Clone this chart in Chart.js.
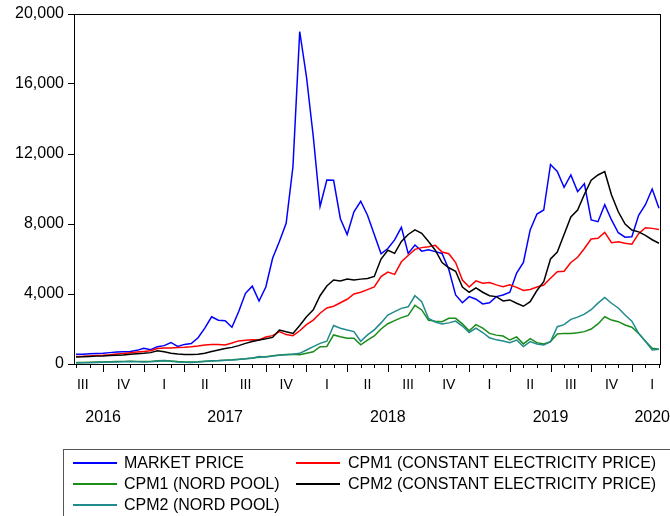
<!DOCTYPE html>
<html>
<head>
<meta charset="utf-8">
<script src="https://cdn.jsdelivr.net/npm/chart.js@4.4.1/dist/chart.umd.min.js"></script>
<style>
  html, body { margin: 0; padding: 0; background: #fff; }
  #wrap { width: 670px; height: 516px; }
</style>
</head>
<body>
<div id="wrap"><canvas id="chart" width="670" height="516"></canvas></div>
<script>
// half-monthly observations, Aug 2016 - Mar 2020
const dates = [
    '2016-08-01','2016-08-16','2016-09-01','2016-09-16','2016-10-01','2016-10-16','2016-11-01','2016-11-16','2016-12-01','2016-12-16',
    '2017-01-01','2017-01-16','2017-02-01','2017-02-16','2017-03-01','2017-03-16','2017-04-01','2017-04-16','2017-05-01','2017-05-16',
    '2017-06-01','2017-06-16','2017-07-01','2017-07-16','2017-08-01','2017-08-16','2017-09-01','2017-09-16','2017-10-01','2017-10-16',
    '2017-11-01','2017-11-16','2017-12-01','2017-12-16','2018-01-01','2018-01-16','2018-02-01','2018-02-16','2018-03-01','2018-03-16',
    '2018-04-01','2018-04-16','2018-05-01','2018-05-16','2018-06-01','2018-06-16','2018-07-01','2018-07-16','2018-08-01','2018-08-16',
    '2018-09-01','2018-09-16','2018-10-01','2018-10-16','2018-11-01','2018-11-16','2018-12-01','2018-12-16','2019-01-01','2019-01-16',
    '2019-02-01','2019-02-16','2019-03-01','2019-03-16','2019-04-01','2019-04-16','2019-05-01','2019-05-16','2019-06-01','2019-06-16',
    '2019-07-01','2019-07-16','2019-08-01','2019-08-16','2019-09-01','2019-09-16','2019-10-01','2019-10-16','2019-11-01','2019-11-16',
    '2019-12-01','2019-12-16','2020-01-01','2020-01-16','2020-02-01','2020-02-16','2020-03-01'
];

const marketPrice = [
    555,560,580,600,620,650,680,700,720,780,
    900,820,990,1050,1230,1000,1120,1170,1500,2050,
    2700,2500,2470,2100,3000,4040,4450,3600,4400,6040,
    7000,8040,11270,19000,16400,13000,9000,10510,10500,8300,
    7400,8700,9300,8500,7400,6300,6600,7090,7810,6320,
    6800,6450,6530,6420,6320,5400,3950,3500,3850,3700,
    3430,3500,3850,3940,4100,5200,5800,7660,8570,8800,
    11400,11000,10100,10800,9850,10300,8230,8130,9100,8230,
    7500,7250,7270,8500,9100,10000,8900
];

const cpm1Constant = [
    430,440,460,480,500,530,570,600,640,680,
    720,760,880,920,920,940,960,990,1030,1080,
    1120,1110,1090,1200,1320,1360,1380,1370,1540,1620,
    1850,1680,1620,1900,2250,2510,2900,3200,3300,3500,
    3700,4000,4100,4250,4400,5000,5250,5120,5840,6200,
    6550,6650,6700,6780,6400,6300,5800,4800,4400,4750,
    4610,4650,4520,4420,4530,4380,4200,4260,4400,4510,
    4900,5270,5300,5800,6100,6600,7140,7180,7520,6930,
    6990,6900,6850,7450,7790,7750,7690
];

const cpm1Nord = [
    80,85,95,110,120,130,140,150,160,150,
    140,150,180,200,170,140,120,110,130,160,
    190,200,220,240,270,300,340,380,420,470,
    520,540,560,530,620,700,990,1000,1660,1560,
    1470,1470,1100,1370,1600,2000,2300,2480,2650,2780,
    3350,3090,2500,2450,2420,2610,2610,2290,1900,2250,
    2050,1750,1650,1600,1370,1550,1150,1450,1220,1150,
    1280,1720,1750,1750,1790,1850,2000,2290,2700,2510,
    2420,2230,2100,1750,1300,900,840
];

const cpm2Constant = [
    400,410,430,450,460,480,500,520,560,590,
    610,650,760,700,620,570,550,550,560,620,
    720,800,880,950,1050,1180,1280,1370,1440,1520,
    1940,1840,1750,2200,2700,3100,3900,4460,4800,4740,
    4850,4800,4850,4890,5000,6000,6500,6320,7000,7400,
    7660,7470,7000,6500,5800,5500,5300,4400,4100,4350,
    4100,3900,3850,3600,3660,3470,3300,3560,4200,4700,
    6000,6400,7400,8400,8800,9700,10500,10800,10990,9660,
    8700,8000,7660,7550,7350,7100,6900
];

const cpm2Nord = [
    60,65,75,90,100,110,120,130,140,130,
    120,130,160,180,150,120,100,90,110,140,
    170,190,210,230,260,300,330,430,400,450,
    500,530,560,610,800,990,1180,1300,2200,2040,
    1940,1850,1300,1660,1950,2350,2800,2990,3180,3270,
    3900,3560,2600,2400,2290,2350,2450,2170,1800,2050,
    1800,1500,1380,1310,1220,1370,1000,1280,1140,1090,
    1280,2130,2250,2550,2680,2850,3100,3480,3800,3470,
    3200,2800,2450,1750,1300,800,840
];

const quarterLabels = ['I', 'II', 'III', 'IV'];
const yTicks = [0, 4000, 8000, 12000, 16000, 20000];

const FONT = '"Liberation Sans", Arial, sans-serif';

// months since Jan 2016
function toMonth(d) {
    const [y, m, day] = d.split('-').map(Number);
    return (y - 2016) * 12 + (m - 1) + (day - 1) / 30;
}

function series(values) {
    return values.map((v, i) => ({ x: toMonth(dates[i]), y: v }));
}

// frame, month ticks, quarter + year labels and the legend box
const eviewsLook = {
    id: 'eviewsLook',
    afterDraw(chart) {
        const { ctx, chartArea: a, scales: { x } } = chart;
        ctx.save();
        ctx.strokeStyle = '#000';
        ctx.lineWidth = 1;
        ctx.strokeRect(a.left + 0.5, a.top + 0.5, a.right - a.left - 1, a.bottom - a.top);

        // month ticks, longer on quarters
        ctx.beginPath();
        for (let m = Math.ceil(x.min); m <= x.max; m++) {
            const px = Math.round(x.getPixelForValue(m)) + 0.5;
            const len = m % 3 === 0 ? 8 : 4;
            ctx.moveTo(px, a.bottom);
            ctx.lineTo(px, a.bottom + len);
        }
        ctx.stroke();

        // quarter labels at quarter centres, years under their quarters
        ctx.fillStyle = '#000';
        ctx.textAlign = 'center';
        ctx.textBaseline = 'middle';
        const years = {};
        for (let q = 0; q * 3 < x.max; q++) {
            const c = q * 3 + 1.5;
            if (c < x.min || c > x.max) continue;
            const px = x.getPixelForValue(c);
            ctx.font = '14px ' + FONT;
            ctx.fillText(quarterLabels[q % 4], px, a.bottom + 21);
            const yr = 2016 + Math.floor(q / 4);
            (years[yr] = years[yr] || []).push(px);
        }
        ctx.font = '16px ' + FONT;
        Object.keys(years).forEach(yr => {
            const ps = years[yr];
            let px = ps.reduce((s, p) => s + p, 0) / ps.length;
            const w = ctx.measureText(yr).width;
            px = Math.min(px, chart.width - w / 2 + 1);
            ctx.fillText(yr, px, a.bottom + 54);
        });

        // legend
        ctx.strokeStyle = '#555';
        ctx.strokeRect(63.5, 449.5, 640, 100);
        const cols = [{ x0: 73, x1: 117, tx: 124 }, { x0: 296, x1: 340, tx: 348 }];
        const rows = [463, 484, 505];
        ctx.textAlign = 'left';
        chart.data.datasets.forEach((ds, i) => {
            const c = cols[i % 2], r = rows[Math.floor(i / 2)];
            ctx.strokeStyle = ds.borderColor;
            ctx.lineWidth = 2;
            ctx.beginPath();
            ctx.moveTo(c.x0, r);
            ctx.lineTo(c.x1, r);
            ctx.stroke();
            ctx.fillStyle = '#000';
            ctx.fillText(ds.label, c.tx, r + 1);
        });
        ctx.restore();
    }
};

function line(label, values, color, order) {
    return {
        label: label,
        data: series(values),
        borderColor: color,
        backgroundColor: color,
        borderWidth: 1.5,
        pointRadius: 0,
        tension: 0,
        order: order
    };
}

new Chart(document.getElementById('chart'), {
    type: 'line',
    data: {
        datasets: [
            line('MARKET PRICE', marketPrice, '#0000ff', 5),
            line('CPM1 (CONSTANT ELECTRICITY PRICE)', cpm1Constant, '#ff0000', 4),
            line('CPM1 (NORD POOL)', cpm1Nord, '#1a8c1a', 3),
            line('CPM2 (CONSTANT ELECTRICITY PRICE)', cpm2Constant, '#000000', 2),
            line('CPM2 (NORD POOL)', cpm2Nord, '#208a8c', 1)
        ]
    },
    options: {
        responsive: false,
        animation: false,
        layout: { padding: { top: 14, right: 9, bottom: 152, left: 0 } },
        plugins: {
            legend: { display: false },
            tooltip: { enabled: false }
        },
        scales: {
            x: {
                type: 'linear',
                display: false,
                min: 6.85,
                max: 50.15
            },
            y: {
                min: 0,
                max: 20000,
                afterFit(scale) { scale.width = 74; },
                afterBuildTicks(scale) { scale.ticks = yTicks.map(v => ({ value: v })); },
                ticks: {
                    color: '#000',
                    font: { family: FONT, size: 16 },
                    padding: 4,
                    callback: v => v.toLocaleString('en-US')
                },
                grid: {
                    drawOnChartArea: false,
                    drawTicks: true,
                    tickLength: 6,
                    color: '#000'
                },
                border: { color: '#000' }
            }
        }
    },
    plugins: [eviewsLook]
});
</script>
</body>
</html>
